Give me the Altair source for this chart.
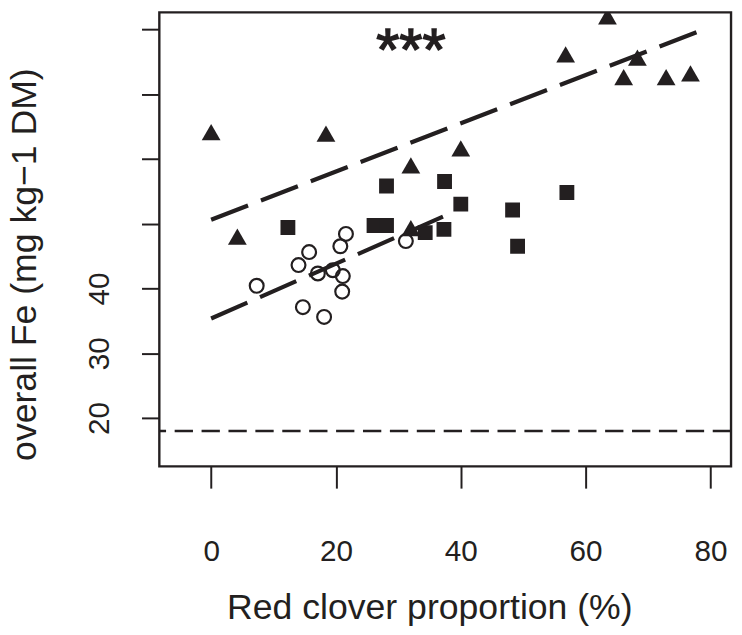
import altair as alt
import pandas as pd

# ---- data ----
circle_x = [7.3, 14.7, 18.1, 14.0, 15.7, 17.1, 19.5, 21.1, 21.0, 20.7, 21.6, 31.2]
circle_y = [40.4, 37.1, 35.6, 43.6, 45.6, 42.3, 42.8, 41.9, 39.5, 46.5, 48.4, 47.3]

square_x = [12.3, 26.1, 28.1, 28.1, 34.3, 37.3, 37.4, 40.0, 48.3, 49.1, 57.0]
square_y = [49.4, 49.7, 49.7, 55.8, 48.6, 49.1, 56.5, 53.0, 52.1, 46.5, 54.8]

triangle_x = [0.0, 4.2, 18.4, 32.0, 32.0, 40.0, 56.8, 63.5, 66.1, 68.3, 72.9, 76.8]
triangle_y = [64.1, 48.0, 63.9, 49.3, 59.0, 61.6, 76.1, 82.0, 72.6, 75.6, 72.6, 73.2]

fit_names = ["upper", "lower"]
fit_intercepts = [50.6, 35.35]
fit_slopes = [0.372, 0.423]
fit_x_max = [78.2, 37.2]

reference_level = [18]
x_ticks = [0, 20, 40, 60, 80]
y_ticks = [20, 30, 40, 50, 60, 70, 80]
y_labelled_max = 40
signif_text = ["***"]
signif_x = [32.0]
signif_y = [73.75]

INK = "#231f20"
FONT = "Liberation Sans"

# ---- tables ----
circles = pd.DataFrame({"x": circle_x, "y": circle_y})
squares = pd.DataFrame({"x": square_x, "y": square_y})
triangles = pd.DataFrame({"x": triangle_x, "y": triangle_y})
fit_rows = []
for n, b0, b1, xm in zip(fit_names, fit_intercepts, fit_slopes, fit_x_max):
    fit_rows.append({"fit": n, "x": 0.0, "y": b0})
    fit_rows.append({"fit": n, "x": xm, "y": b0 + b1 * xm})
fits = pd.DataFrame(fit_rows)
ref = pd.DataFrame({"y": reference_level})
ann = pd.DataFrame({"x": signif_x, "y": signif_y, "t": signif_text})

xscale = alt.Scale(domain=[-8.3, 83.3], nice=False, zero=False)
yscale = alt.Scale(domain=[12.53, 82.6], nice=False, zero=False)

xaxis = alt.Axis(
    values=x_ticks, title="Red clover proportion (%)", grid=False, domain=False,
    tickSize=22, tickWidth=2, tickColor=INK,
    labelFontSize=30, labelColor=INK, labelFont=FONT, labelPadding=73,
    labelBaseline="alphabetic", labelFlush=False, labelOverlap=False,
    titleFontSize=36, titleFont=FONT, titleColor=INK, titleFontWeight="normal",
    titleX=273, titleY=154, titleAlign="center", titleBaseline="alphabetic",
)
yaxis = alt.Axis(
    values=y_ticks, title="overall Fe (mg kg\u22121 DM)", grid=False, domain=False,
    labelExpr=f"datum.value <= {y_labelled_max} ? datum.label : ''",
    tickSize=18, tickWidth=2, tickColor=INK,
    labelFontSize=30, labelColor=INK, labelFont=FONT, labelPadding=33,
    labelAngle=270, labelAlign="center", labelBaseline="alphabetic",
    labelOverlap=False,
    titleFontSize=36, titleFont=FONT, titleColor=INK, titleFontWeight="normal",
    titleAngle=270, titleX=-125.5, titleY=254.5, titleAlign="center",
    titleBaseline="alphabetic",
)

X = alt.X("x:Q", scale=xscale, axis=xaxis)
Y = alt.Y("y:Q", scale=yscale, axis=yaxis)

rule = alt.Chart(ref).mark_rule(color=INK, strokeWidth=2.6, strokeDash=[18.5, 8.7]).encode(y=Y)

circ = alt.Chart(circles).mark_point(
    shape="circle", filled=False, size=196, strokeWidth=2.2, color=INK, opacity=1, clip=True
).encode(x=X, y=Y)

sq = alt.Chart(squares).mark_point(
    shape="square", filled=True, size=225, color=INK, opacity=1, clip=True
).encode(x=X, y=Y)

tri = alt.Chart(triangles).mark_point(
    shape="triangle-up", filled=True, size=360, color=INK, opacity=1, clip=True
).encode(x=X, y=Y)

lines = alt.Chart(fits).mark_line(
    color=INK, strokeWidth=4.2, strokeDash=[40, 14], strokeCap="butt", clip=True
).encode(x=X, y=Y, detail="fit:N")

txt = alt.Chart(ann).mark_text(
    font=FONT, fontSize=60, fontWeight="normal", color=INK, stroke=INK, strokeWidth=1.5,
    align="center", baseline="alphabetic"
).encode(x=X, y=Y, text="t:N")

chart = alt.layer(rule, circ, sq, tri, lines, txt).properties(
    width=578, height=459,
    autosize=alt.AutoSizeParams(type="none"),
    padding={"left": 153, "top": 1, "right": 3, "bottom": 160},
).configure(
    background="white",
    view=alt.ViewConfig(stroke=INK, strokeWidth=2.4),
)

chart.save("out.html", embed_options={"renderer": "svg", "actions": False})
